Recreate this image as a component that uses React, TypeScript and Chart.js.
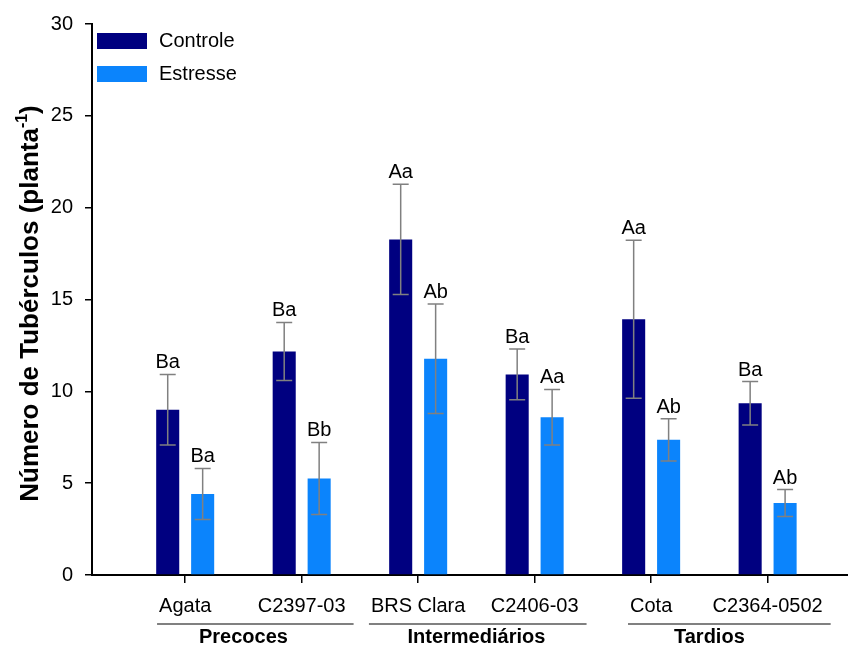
import { useEffect, useRef } from 'react';
import { Chart, registerables } from 'chart.js';

Chart.register(...registerables);

const FONT = 'Arial, "Liberation Sans", sans-serif';

const categories = ['Agata', 'C2397-03', 'BRS Clara', 'C2406-03', 'Cota', 'C2364-0502'];
const groups = ['Precoces', 'Intermediários', 'Tardios'];
const seriesNames = ['Controle', 'Estresse'];
const controle = [9.0, 12.17, 18.27, 10.92, 13.93, 9.35];
const controleErr = [1.92, 1.58, 3.0, 1.38, 4.3, 1.18];
const estresse = [4.41, 5.26, 11.77, 8.59, 7.36, 3.92];
const estresseErr = [1.39, 1.96, 2.98, 1.51, 1.15, 0.73];
const controleLetters = ['Ba', 'Ba', 'Aa', 'Ba', 'Aa', 'Ba'];
const estresseLetters = ['Ba', 'Bb', 'Ab', 'Aa', 'Ab', 'Ab'];
const yTicks = [0, 5, 10, 15, 20, 25, 30];
const colors = ['#000080', '#0b84fc'];

const values = [controle, estresse];
const errors = [controleErr, estresseErr];
const letters = [controleLetters, estresseLetters];

const overlayPlugin = {
  id: 'overlay',
  afterDatasetsDraw(chart: any) {
    const ctx = chart.ctx;
    const ys = chart.scales.y;
    const xs = chart.scales.x;
    const area = chart.chartArea;
    ctx.save();
    // error bars + letters
    chart.data.datasets.forEach((_ds: any, di: number) => {
      const meta = chart.getDatasetMeta(di);
      meta.data.forEach((bar: any, i: number) => {
        const v = values[di][i];
        const e = errors[di][i];
        const x = bar.x;
        const yt = ys.getPixelForValue(v + e);
        const yb = ys.getPixelForValue(v - e);
        ctx.strokeStyle = '#808080';
        ctx.lineWidth = 1.5;
        ctx.beginPath();
        ctx.moveTo(x, yt);
        ctx.lineTo(x, yb);
        ctx.moveTo(x - 8, yt);
        ctx.lineTo(x + 8, yt);
        ctx.moveTo(x - 8, yb);
        ctx.lineTo(x + 8, yb);
        ctx.stroke();
        ctx.fillStyle = '#000';
        ctx.font = `20px ${FONT}`;
        ctx.textAlign = 'center';
        ctx.textBaseline = 'alphabetic';
        ctx.fillText(letters[di][i], x, yt - 6);
      });
    });
    // legend
    seriesNames.forEach((name, i) => {
      const top = area.top + 9 + i * 33;
      ctx.fillStyle = colors[i];
      ctx.fillRect(area.left + 5, top, 50, 16);
      ctx.fillStyle = '#000';
      ctx.font = `20px ${FONT}`;
      ctx.textAlign = 'left';
      ctx.textBaseline = 'middle';
      ctx.fillText(name, area.left + 67, top + 8.5);
    });
    // group lines and labels
    groups.forEach((g, gi) => {
      const i0 = gi * 2;
      const i1 = gi * 2 + 1;
      const x0 = xs.getPixelForValue(i0);
      const x1 = xs.getPixelForValue(i1);
      ctx.font = `20px ${FONT}`;
      const w0 = ctx.measureText(categories[i0]).width;
      const w1 = ctx.measureText(categories[i1]).width;
      ctx.strokeStyle = '#808080';
      ctx.lineWidth = 2;
      ctx.beginPath();
      ctx.moveTo(x0 - w0 / 2 - 2, area.bottom + 49);
      ctx.lineTo(x1 + w1 / 2 + 8, area.bottom + 49);
      ctx.stroke();
      ctx.fillStyle = '#000';
      ctx.font = `bold 20px ${FONT}`;
      ctx.textAlign = 'center';
      ctx.textBaseline = 'middle';
      ctx.fillText(g, (x0 + x1) / 2, area.bottom + 62);
    });
    // y title
    const main = 'Número de Tubérculos (planta';
    const sup = '-1';
    const close = ')';
    ctx.font = `bold 26px ${FONT}`;
    const wMain = ctx.measureText(main).width;
    const wClose = ctx.measureText(close).width;
    ctx.font = `bold 16px ${FONT}`;
    const wSup = ctx.measureText(sup).width;
    const total = wMain + wSup + wClose;
    ctx.translate(31, (area.top + area.bottom) / 2 + 4);
    ctx.rotate(-Math.PI / 2);
    ctx.fillStyle = '#000';
    ctx.textAlign = 'left';
    ctx.textBaseline = 'middle';
    let cx = -total / 2;
    ctx.font = `bold 26px ${FONT}`;
    ctx.fillText(main, cx, 0);
    cx += wMain;
    ctx.font = `bold 16px ${FONT}`;
    ctx.fillText(sup, cx, -8);
    cx += wSup;
    ctx.font = `bold 26px ${FONT}`;
    ctx.fillText(close, cx, 0);
    ctx.restore();
  },
};

export default function App() {
  const ref = useRef<HTMLCanvasElement>(null);
  useEffect(() => {
    if (!ref.current) return;
    Chart.defaults.font.family = FONT;
    const chart = new Chart(ref.current, {
      type: 'bar',
      data: {
        datasets: seriesNames.map((name, di) => ({
          label: name,
          data: values[di].map((v, i) => ({ x: i, y: v })),
          backgroundColor: colors[di],
          borderWidth: 0,
          categoryPercentage: 0.6,
          barPercentage: 0.66,
        })),
      } as any,
      options: {
        responsive: false,
        animation: false,
        layout: { padding: { top: 22, left: 0, right: 0, bottom: 0 } },
        plugins: { legend: { display: false }, tooltip: { enabled: false } },
        scales: {
          x: {
            type: 'linear',
            min: -0.8,
            max: 5.69,
            offset: false,
            afterBuildTicks: (s: any) => {
              s.ticks = categories.map((_, i) => ({ value: i }));
            },
            afterFit: (s: any) => {
              s.height = 71;
            },
            grid: { offset: false, drawOnChartArea: false, drawTicks: true, tickLength: 8, color: '#000', lineWidth: 1.5 },
            border: { display: true, color: '#000', width: 2 },
            ticks: {
              callback: (v: any) => categories[v] ?? '',
              font: { size: 20 },
              color: '#000',
              padding: 11,
              autoSkip: false,
              maxRotation: 0,
            },
          },
          y: {
            min: 0,
            max: 30,
            afterBuildTicks: (s: any) => {
              s.ticks = yTicks.map((v) => ({ value: v }));
            },
            afterFit: (s: any) => {
              s.width = 92;
            },
            grid: { drawOnChartArea: false, drawTicks: true, tickLength: 7, color: '#000', lineWidth: 1.5 },
            border: { display: true, color: '#000', width: 2 },
            ticks: { font: { size: 20 }, color: '#000', padding: 12 },
          },
        },
      } as any,
      plugins: [overlayPlugin],
    });
    return () => chart.destroy();
  }, []);
  return (
    <div style={{ position: 'absolute', left: 0, top: 0, width: 848, height: 646, background: '#fff' }}>
      <canvas ref={ref} width={848} height={646} />
    </div>
  );
}
